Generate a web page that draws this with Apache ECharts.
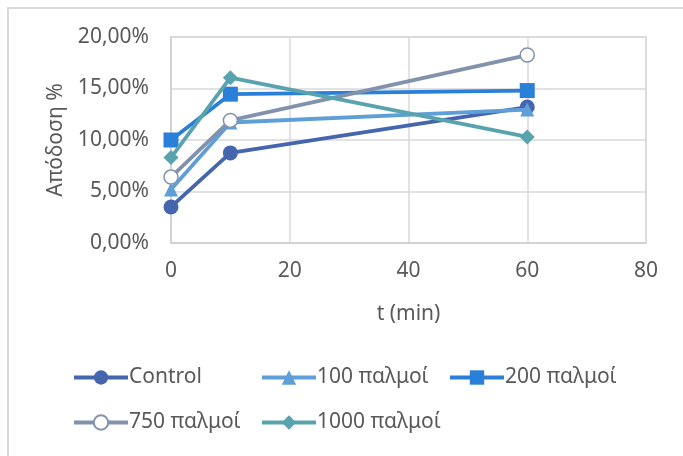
<!DOCTYPE html>
<html>
<head>
<meta charset="utf-8">
<script src="https://cdn.jsdelivr.net/npm/echarts@6/dist/echarts.min.js"></script>
<style>
html,body{margin:0;padding:0;background:#fff;}
#frame{position:absolute;left:7px;top:7px;width:680px;height:455px;border:2px solid #d9d9d9;box-sizing:border-box;}
#chart{position:absolute;left:0;top:0;width:683px;height:456px;}
</style>
</head>
<body>
<div id="frame"></div>
<div id="chart"></div>
<script>
// Time points (min) and yield (%) per pulse count
const times = [0, 10, 60];
const seriesNames = ['Control', '100 παλμοί', '200 παλμοί', '750 παλμοί', '1000 παλμοί'];
const control = [3.5, 8.75, 13.2];
const p100 = [5.2, 11.7, 12.95];
const p200 = [10.0, 14.45, 14.8];
const p750 = [6.4, 11.9, 18.25];
const p1000 = [8.3, 16.05, 10.3];
const yTicks = [0, 5, 10, 15, 20];
const xTicks = [0, 20, 40, 60, 80];

const colors = ['#4565ae', '#5f9fd7', '#2a7fd8', '#8292ad', '#58a3ad'];
const symbols = ['circle', 'triangle', 'rect', 'circle', 'diamond'];
const sizes = [15, 14, 15, 14, 15];
const values = [control, p100, p200, p750, p1000];

const font = 'Noto Sans';
const txt = '#595959';
const fs = 21;

const chart = echarts.init(document.getElementById('chart'), null, {renderer: 'canvas'});

const series = seriesNames.map((name, i) => ({
  name: name,
  type: 'line',
  data: times.map((t, k) => [t, values[i][k]]),
  symbol: symbols[i],
  symbolSize: sizes[i],
  showAllSymbol: true,
  lineStyle: {color: colors[i], width: 3.8},
  itemStyle: i === 3
    ? {color: '#ffffff', borderColor: colors[i], borderWidth: 1.5}
    : {color: colors[i], borderWidth: 0},
  emphasis: {disabled: true},
  z: 2 + i
}));

// One legend block per entry so the rows line up in columns
const legendPos = [
  {left: 72, top: 367},
  {left: 260, top: 367},
  {left: 448, top: 367},
  {left: 72, top: 412},
  {left: 260, top: 412}
];
const legends = seriesNames.map((name, i) => ({
  data: [name],
  left: legendPos[i].left,
  top: legendPos[i].top,
  padding: 0,
  itemWidth: 54,
  itemHeight: 18,
  itemGap: 4,
  selectedMode: false,
  lineStyle: {width: 4},
  textStyle: {fontFamily: font, fontSize: fs, color: txt, padding: [0, 0, 0, -4]}
}));

chart.setOption({
  animation: false,
  color: colors,
  grid: {left: 171, top: 37, right: 37, bottom: 213, show: true, borderColor: '#d9d9d9', borderWidth: 1.5},
  xAxis: {
    type: 'value',
    min: xTicks[0],
    max: xTicks[xTicks.length - 1],
    interval: 20,
    name: 't (min)',
    nameLocation: 'middle',
    nameGap: 61,
    nameTextStyle: {fontFamily: font, fontSize: fs, color: txt},
    axisLine: {show: true, lineStyle: {color: '#d0d0d0', width: 1.5}},
    axisTick: {show: false},
    splitLine: {show: true, lineStyle: {color: '#d9d9d9', width: 1.5}},
    axisLabel: {fontFamily: font, fontSize: fs, color: txt, margin: 18}
  },
  yAxis: {
    type: 'value',
    min: yTicks[0],
    max: yTicks[yTicks.length - 1],
    interval: 5,
    name: 'Απόδοση %',
    nameLocation: 'middle',
    nameGap: 104,
    nameTextStyle: {fontFamily: font, fontSize: fs, color: txt},
    axisLine: {show: true, lineStyle: {color: '#d0d0d0', width: 1.5}},
    axisTick: {show: false},
    splitLine: {show: true, lineStyle: {color: '#d9d9d9', width: 1.5}},
    axisLabel: {
      fontFamily: font, fontSize: fs, color: txt, margin: 22,
      formatter: v => v.toFixed(2).replace('.', ',') + '%'
    }
  },
  legend: legends,
  series: series
});
</script>
</body>
</html>
